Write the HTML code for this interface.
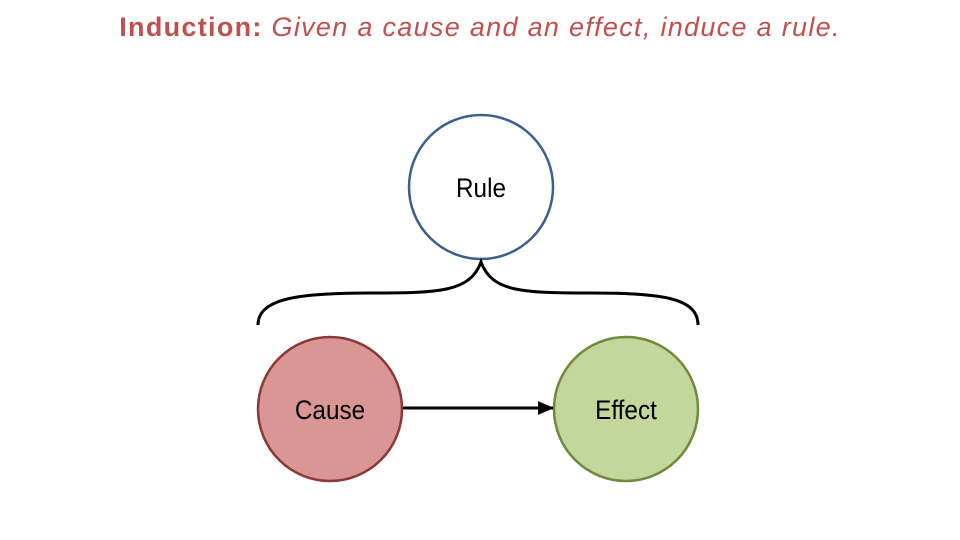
<!DOCTYPE html>
<html><head><meta charset="utf-8"><style>
html,body{margin:0;padding:0;background:#fff;}
body{width:960px;height:540px;overflow:hidden;position:relative;}
.t{position:absolute;left:0;width:960px;top:12px;text-align:center;font-family:"Liberation Sans",sans-serif;font-size:27px;color:#c0504d;letter-spacing:1.3px;white-space:nowrap;}
</style></head><body>
<div class="t"><b>Induction:</b> <span style="font-style:italic">Given a cause and an effect, induce a rule.</span></div>
<svg width="960" height="540" style="position:absolute;left:0;top:0">
<defs><marker id="a" markerWidth="16" markerHeight="14" refX="15" refY="7" orient="auto" markerUnits="userSpaceOnUse"><path d="M0,0 L16,7 L0,14 z" fill="#000"/></marker></defs>
<circle cx="481" cy="187" r="72" fill="#fff" stroke="#3b5f8f" stroke-width="2.5"/>
<circle cx="330" cy="409" r="72" fill="#d99694" stroke="#8c3836" stroke-width="2.5"/>
<circle cx="626" cy="409" r="72" fill="#c3d69b" stroke="#71893a" stroke-width="2.5"/>
<path d="M258,325 C258,298 300,293 370,293 C440,293 470,292 481,262 C492,292 522,293 592,293 C662,293 698,298 698,325" fill="none" stroke="#000" stroke-width="3"/>
<line x1="403" y1="408" x2="553" y2="408" stroke="#000" stroke-width="3" marker-end="url(#a)"/>
<g font-family="Liberation Sans, sans-serif" font-size="27" text-anchor="middle" fill="#000">
<text x="0" y="197" transform="translate(481 0) scale(0.9 1)">Rule</text>
<text x="0" y="419" transform="translate(330 0) scale(0.9 1)">Cause</text>
<text x="0" y="419" transform="translate(626 0) scale(0.9 1)">Effect</text>
</g>
</svg>
</body></html>
